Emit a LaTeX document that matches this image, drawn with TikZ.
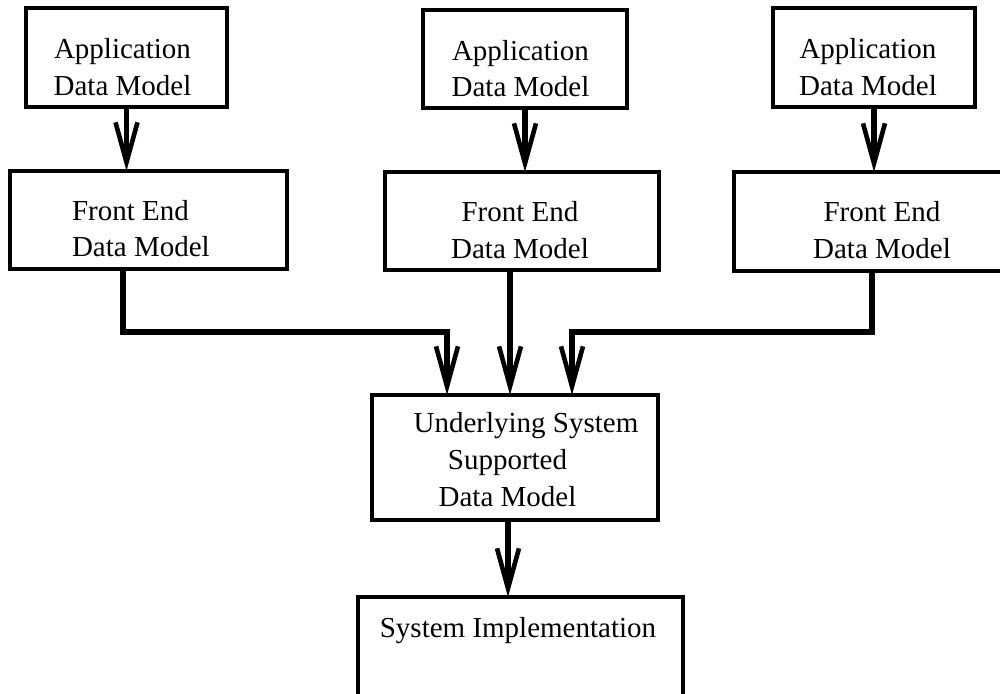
\documentclass[tikz,border=0pt]{standalone}
\usepackage{fontspec}
\setmainfont{Liberation Serif}
\usetikzlibrary{arrows.meta,calc}

\begin{document}
\begin{tikzpicture}[x=0.5pt,y=-0.5pt,
  box/.style n args={2}{draw, line width=1.6pt, inner sep=0pt, outer sep=0pt,
    minimum width=#1, minimum height=#2},
  txt/.style={inner sep=0pt, outer sep=0pt, align=center,
    font=\fontsize{14.5}{18.3}\selectfont},
  conn/.style={line width=2.6pt,
    -{Straight Barb[length=20pt,width=11pt,line width=2.3pt]}}]

% page frame
\useasboundingbox (0,0) rectangle (1000,693);
\fill[white] (0,0) rectangle (1000,693);
\clip (0,0) rectangle (1000,693);

% application level
\node[box={100.5pt}{49.5pt}] (a1) at (126.5,57.5) {};
\node[box={102pt}{49pt}]     (a2) at (525,59) {};
\node[box={101pt}{49.5pt}]   (a3) at (874,57.5) {};

% front end level
\node[box={138.5pt}{49pt}]   (f1) at (148.5,220) {};
\node[box={137pt}{49pt}]     (f2) at (522,221) {};
\node[box={138pt}{49.5pt}]   (f3) at (872,221.5) {};

% underlying system and implementation
\node[box={143pt}{62.5pt}]   (u)  at (515,457.5) {};
\node[box={162.5pt}{61.5pt}] (si) at (520.5,658.5) {};

% labels
\node[txt] (ta1) at (122.5,67.1) {Application\\Data Model};
\node[txt] (ta2) at (520.5,68.6) {Application\\Data Model};
\node[txt] (ta3) at (868,67.1) {Application\\Data Model};
\node[txt, align=left, anchor=west] (tf1) at (72,228.6) {Front End\\Data Model};
\node[txt] (tf2) at (520,230.1) {Front End\\Data Model};
\node[txt] (tf3) at (882,230.1) {Front End\\Data Model};
\node[txt] (tu) at (507.5,459.6) {\hspace*{18.5pt}Underlying System\\Supported\\Data Model};
\node[txt, anchor=base] (tsi) at (518,637) {System Implementation};

% connectors
\coordinate (bus) at ($(f1.south)!0.5!(u.north)$);
\draw[conn] (a1.south) -- (a1.south |- f1.north);
\draw[conn] (a2.south) -- (a2.south |- f2.north);
\draw[conn] (a3.south) -- (a3.south |- f3.north);
\draw[conn] ([xshift=-12.75pt]f1.south) |- ([xshift=-34pt]u.north |- bus) -- ([xshift=-34pt]u.north);
\draw[conn] ([xshift=-2.5pt]u.north |- f2.south) -- ([xshift=-2.5pt]u.north);
\draw[conn] (f3.south) |- ([xshift=28.5pt]u.north |- bus) -- ([xshift=28.5pt]u.north);
\draw[conn] ([xshift=-3.5pt]u.south) -- ([xshift=-3.5pt]u.south |- si.north);
\end{tikzpicture}
\end{document}
